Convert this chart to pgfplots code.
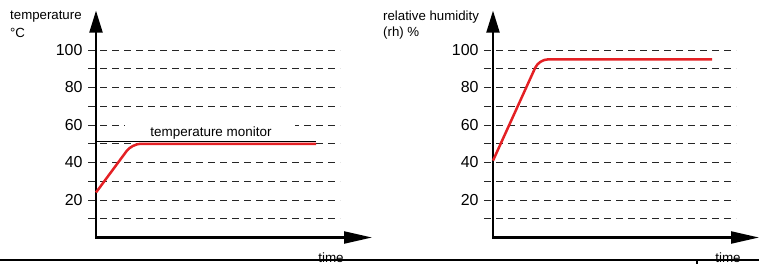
\documentclass[border=0pt]{standalone}
\usepackage{pgfplots}
\pgfplotsset{compat=1.18}
\usepackage{fontspec}
\setmainfont{Liberation Sans}
\usetikzlibrary{arrows.meta}
\definecolor{cred}{RGB}{228,32,36}
\tikzset{axarrow/.style={line width=2.2bp, line join=miter,
    {Triangle[length=22bp,width=13bp]}-{Triangle[length=28bp,width=12bp]}}}
\begin{document}
\begin{tikzpicture}[x=1bp,y=1bp]
\path[use as bounding box] (0,0) rectangle (759,264);
\pgfplotsset{
  myax/.style={
    scale only axis,
    width=252bp, height=187.5bp,
    ymin=0, ymax=100,
    ytick={20,40,60,80,100},
    minor ytick={10,30,50,70,90},
    ymajorgrids, yminorgrids,
    xtick=\empty,
    major tick length=0pt, minor tick length=0pt,
    axis lines*=left,
    axis line style={draw=none},
    major grid style={black!85, line width=0.9bp, dash pattern=on 6.5bp off 5.5bp},
    minor grid style={black!85, line width=0.9bp, dash pattern=on 6.5bp off 5.5bp},
    yticklabel style={font=\fontsize{16}{16}\selectfont, xshift=-2bp},
    /pgf/number format/assume math mode=true,
    clip=false,
    anchor=origin,
  },
}
% left chart: temperature
\begin{axis}[myax, at={(96bp,26.5bp)}, xmin=-8, xmax=244]
  \draw[axarrow] (axis cs:0,121) -- (axis cs:0,0) -- (axis cs:276,0);
  \addplot[black, line width=1.3bp] coordinates {(0,51.3) (220,51.3)};
  \fill[white] (axis cs:29,54.2) rectangle (axis cs:199,62);
  \node[font=\fontsize{13.5}{14}\selectfont] at (axis cs:115,55.8) {temperature monitor};
  \addplot[cred, line width=2.5bp, rounded corners=9bp] coordinates {(0,24) (36,50) (220,50)};
\end{axis}
% right chart: relative humidity
\begin{axis}[myax, at={(493bp,26.5bp)}, xmin=-9, xmax=243]
  \draw[axarrow] (axis cs:0,121) -- (axis cs:0,0) -- (axis cs:266,0);
  \addplot[cred, line width=2.5bp, rounded corners=9bp] coordinates {(0,41) (46,95) (219,95)};
\end{axis}
\node[anchor=west, font=\fontsize{13.3}{14}\selectfont, inner sep=0pt] at (10,247) {temperature};
\node[anchor=west, font=\fontsize{13.3}{14}\selectfont, inner sep=0pt] at (10,231) {°C};
\node[anchor=west, font=\fontsize{13.3}{14}\selectfont, inner sep=0pt] at (383,247) {relative humidity};
\node[anchor=west, font=\fontsize{13.3}{14}\selectfont, inner sep=0pt] at (383,231) {(rh) \%};
\node[anchor=base, font=\fontsize{13.5}{14}\selectfont, inner sep=0pt] at (331,2) {time};
\node[anchor=base, font=\fontsize{13.5}{14}\selectfont, inner sep=0pt] at (728,2) {time};
\draw[line width=2.2bp] (0,4) -- (759,4);
\draw[line width=1.5bp] (697,4) -- (697,0);
\end{tikzpicture}
\end{document}
